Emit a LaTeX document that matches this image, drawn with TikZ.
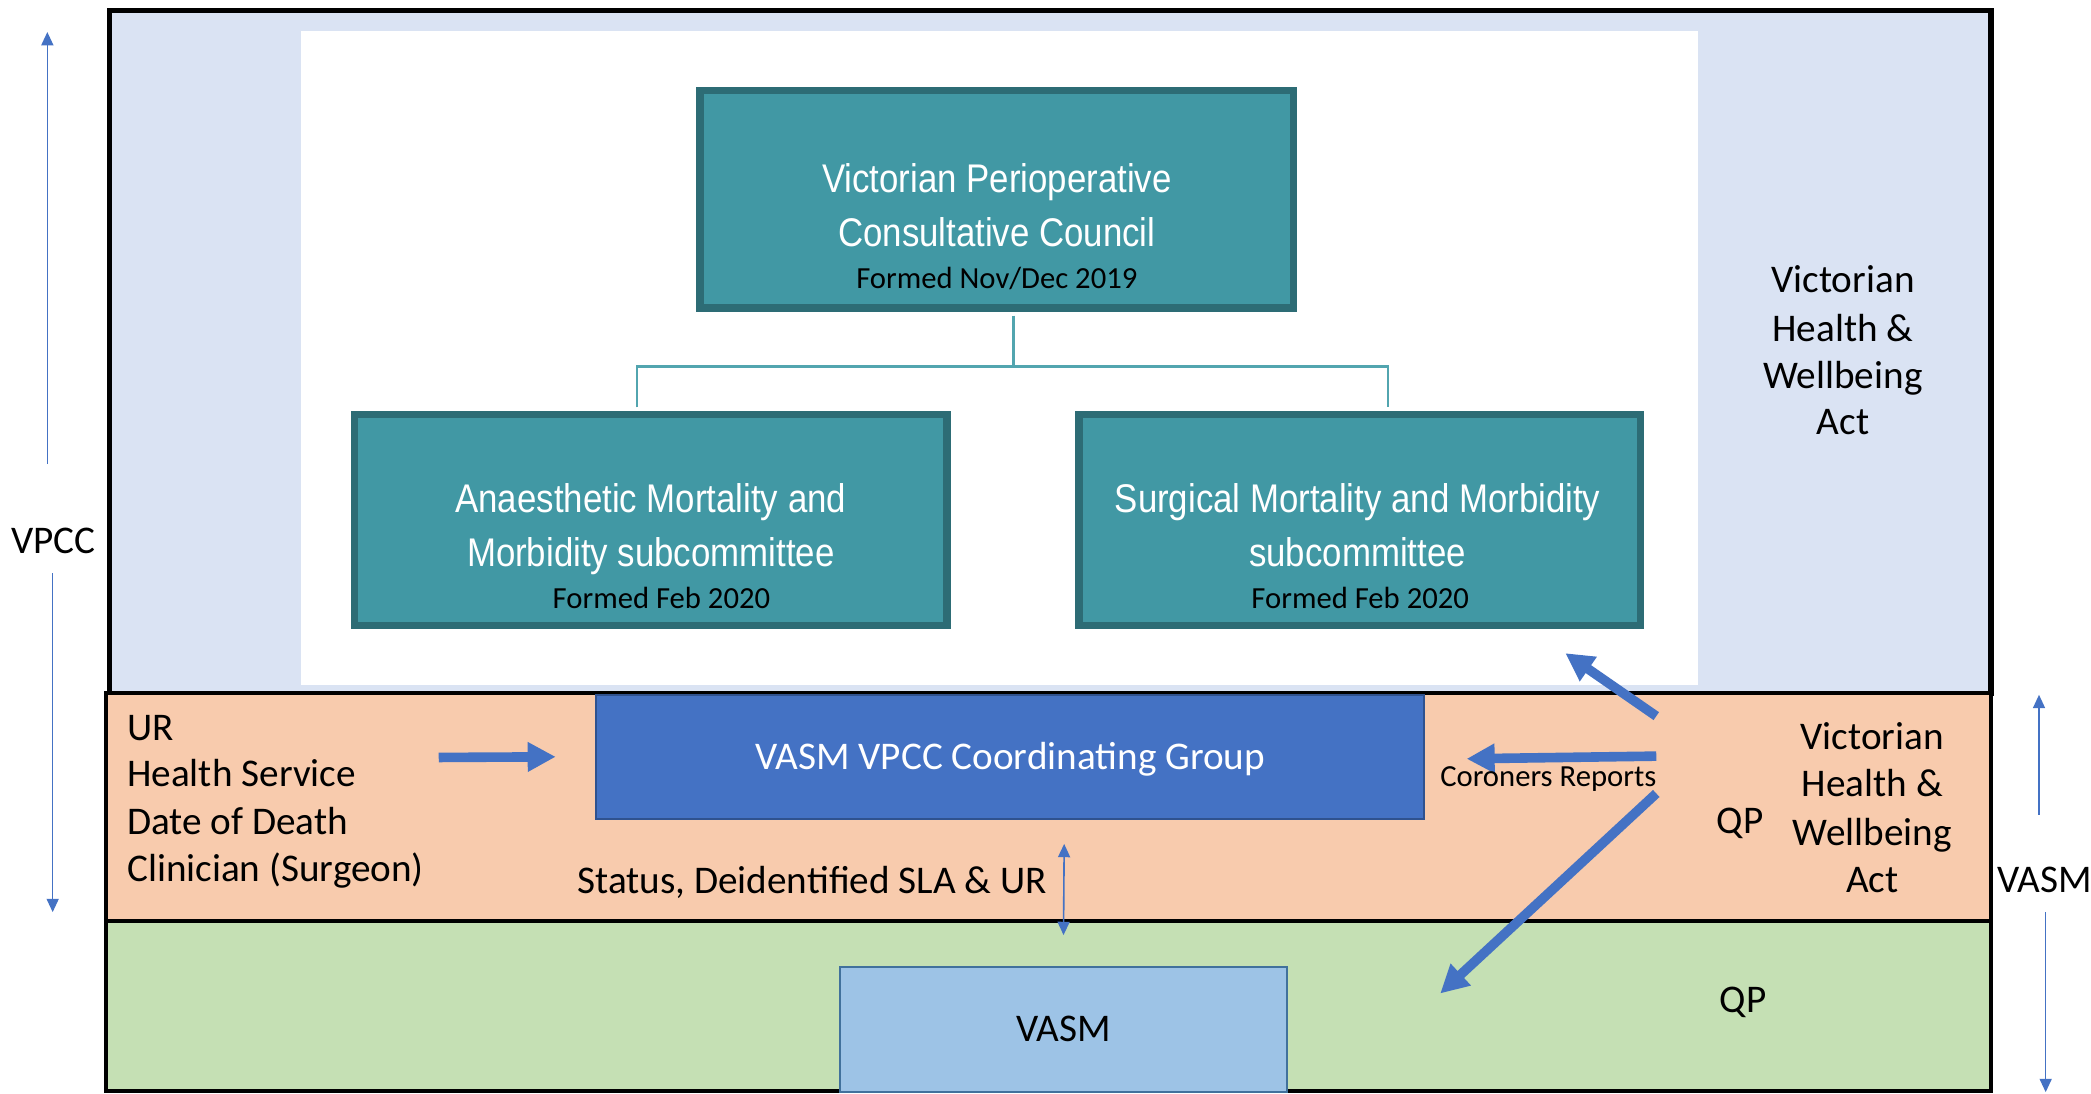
\documentclass[tikz,border=0pt]{standalone}
\usepackage{fontspec}
\setmainfont{Carlito}
\newfontfamily\tealfont[FakeStretch=0.87]{Liberation Sans}
\usetikzlibrary{arrows.meta}
\definecolor{lblue}{HTML}{DAE3F3}
\definecolor{orng}{HTML}{F8CBAD}
\definecolor{grn}{HTML}{C5E0B4}
\definecolor{tealA}{HTML}{4198A4}
\definecolor{tealB}{HTML}{2D6C75}
\definecolor{tealL}{HTML}{52A5AF}
\definecolor{acc}{HTML}{4472C4}
\definecolor{accd}{HTML}{2F528F}
\definecolor{vasmb}{HTML}{9DC3E6}
\definecolor{vasmd}{HTML}{41719C}
\begin{document}
\begin{tikzpicture}[x=0.5pt,y=-0.5pt,
  txt/.style={font=\fontsize{14.7}{17.8}\selectfont, inner sep=0pt, anchor=base},
  smalltxt/.style={font=\fontsize{11.5}{14}\selectfont, inner sep=0pt, anchor=base},
  tealtxt/.style={font=\tealfont\fontsize{15}{18}\selectfont, text=white, inner sep=0pt, anchor=base},
  tealbox/.style={draw=tealB, fill=tealA, line width=2.8pt, inner sep=0pt},
  conn/.style={draw=tealL, line width=0.8pt},
  bigarrow/.style={draw=acc, line width=3.6pt, -{Triangle[length=10.5pt,width=10.5pt]}},
  thinarrow/.style={draw=acc, line width=0.6pt, -{Triangle[length=5pt,width=4.5pt]}},
  thindbl/.style={draw=acc, line width=0.6pt, {Triangle[length=5pt,width=4.5pt]}-{Triangle[length=5pt,width=4.5pt]}},
]
\useasboundingbox (0,0) rectangle (1568,820);

% background regions
\path[fill=lblue, draw=black, line width=2pt] (82,8) rectangle (1493,520);
\path[fill=white] (226,23) rectangle (1273,514);
\path[fill=orng, draw=black, line width=1.5pt] (79.5,520) rectangle (1493,691);
\path[fill=grn, draw=black, line width=1.5pt] (79.5,691) rectangle (1493,818);

% teal boxes
\node[tealbox, minimum width=222.5pt, minimum height=81.5pt] (vpcc) at (747.5,149.5) {};
\node[tealbox, minimum width=222pt, minimum height=79pt] (amm) at (488,390) {};
\node[tealbox, minimum width=210.5pt, minimum height=79pt] (smm) at (1019.5,390) {};

\coordinate (jn) at ([xshift=6.25pt,yshift=-20.5pt]vpcc.south);
\draw[conn, shorten <=1.4pt] ([xshift=6.25pt]vpcc.south) -- (jn);
\draw[conn, shorten <=1.4pt, shorten >=1.4pt] ([xshift=-5.25pt]amm.north) |- (jn) -| ([xshift=10.75pt]smm.north);

\node[tealtxt] (t1a) at (747.5,144) {Victorian Perioperative};
\node[tealtxt] (t1b) at (747.5,185) {Consultative Council};
\node[smalltxt] (t1c) at (747.5,216) {Formed Nov/Dec 2019};
\node[tealtxt] (t2a) at (488,384) {Anaesthetic Mortality and};
\node[tealtxt] (t2b) at (488,425) {Morbidity subcommittee};
\node[smalltxt] (t2c) at (496,456) {Formed Feb 2020};
\node[tealtxt] (t3a) at (1018,384) {Surgical Mortality and Morbidity};
\node[tealtxt] (t3b) at (1018,425) {subcommittee};
\node[smalltxt] (t3c) at (1020,456) {Formed Feb 2020};

% top-right act label
\node[txt] (ta1) at (1382,219) {Victorian};
\node[txt] (ta2) at (1382,256) {Health \&};
\node[txt] (ta3) at (1382,291) {Wellbeing};
\node[txt] (ta4) at (1382,326) {Act};

% coordinating group
\node[draw=accd, fill=acc, line width=0.8pt, minimum width=310.5pt, minimum height=46.5pt, inner sep=0pt] (vcg) at (757.5,567.5) {};
\node[txt, text=white] (vcgt) at (757.5,577) {VASM VPCC Coordinating Group};

% VASM box
\node[draw=vasmd, fill=vasmb, line width=0.8pt, minimum width=167.5pt, minimum height=47pt, inner sep=0pt] (vasm) at (797.5,772) {};
\node[txt] (vasmt) at (797.5,781) {VASM};

% left labels
\node[txt, anchor=base west] (ur) at (95,555) {UR};
\node[txt, anchor=base west] (hs) at (95,590) {Health Service};
\node[txt, anchor=base west] (dod) at (95,626) {Date of Death};
\node[txt, anchor=base west] (clin) at (95,661) {Clinician (Surgeon)};

\coordinate (a1s) at (329,568);
\draw[bigarrow] (a1s) -- ([xshift=-14.75pt]vcg.west);

\node[txt] (status) at (609,670) {Status, Deidentified SLA \& UR};
\draw[thindbl] ([xshift=20.25pt,yshift=-9pt]vcg.south) -- ([yshift=11.5pt]vasm.north);

% right-side arrows
\coordinate (cr) at (1242,567);
\draw[bigarrow] (cr) -- ([xshift=15.5pt,yshift=-0.75pt]vcg.east);
\coordinate (up1) at (1242,537);
\draw[bigarrow] (up1) -- ([xshift=-29.5pt,yshift=-9pt]smm.south east);
\coordinate (lo1) at (1242,595);
\coordinate (lo2) at (1080,745);
\draw[bigarrow] (lo1) -- (lo2);

\node[smalltxt] (cor) at (1161,590) {Coroners Reports};
\node[txt] (qp1) at (1305,625) {QP};
\node[txt] (qp2) at (1307,759) {QP};

\node[txt] (oa1) at (1404,562) {Victorian};
\node[txt] (oa2) at (1404,597) {Health \&};
\node[txt] (oa3) at (1404,634) {Wellbeing};
\node[txt] (oa4) at (1404,669) {Act};

% side scale labels
\node[txt] (vpcclab) at (40,415) {VPCC};
\coordinate (vu1) at (35.5,348);
\coordinate (vu2) at (35.5,24);
\draw[thinarrow] (vu1) -- (vu2);
\coordinate (vd1) at (39.5,430);
\coordinate (vd2) at (39.5,684);
\draw[thinarrow] (vd1) -- (vd2);

\node[txt] (vasmlab) at (1533,669) {VASM};
\coordinate (wu1) at (1529,611);
\coordinate (wu2) at (1529,521);
\draw[thinarrow] (wu1) -- (wu2);
\coordinate (wd1) at (1534,684);
\coordinate (wd2) at (1534,819);
\draw[thinarrow] (wd1) -- (wd2);
\end{tikzpicture}
\end{document}
